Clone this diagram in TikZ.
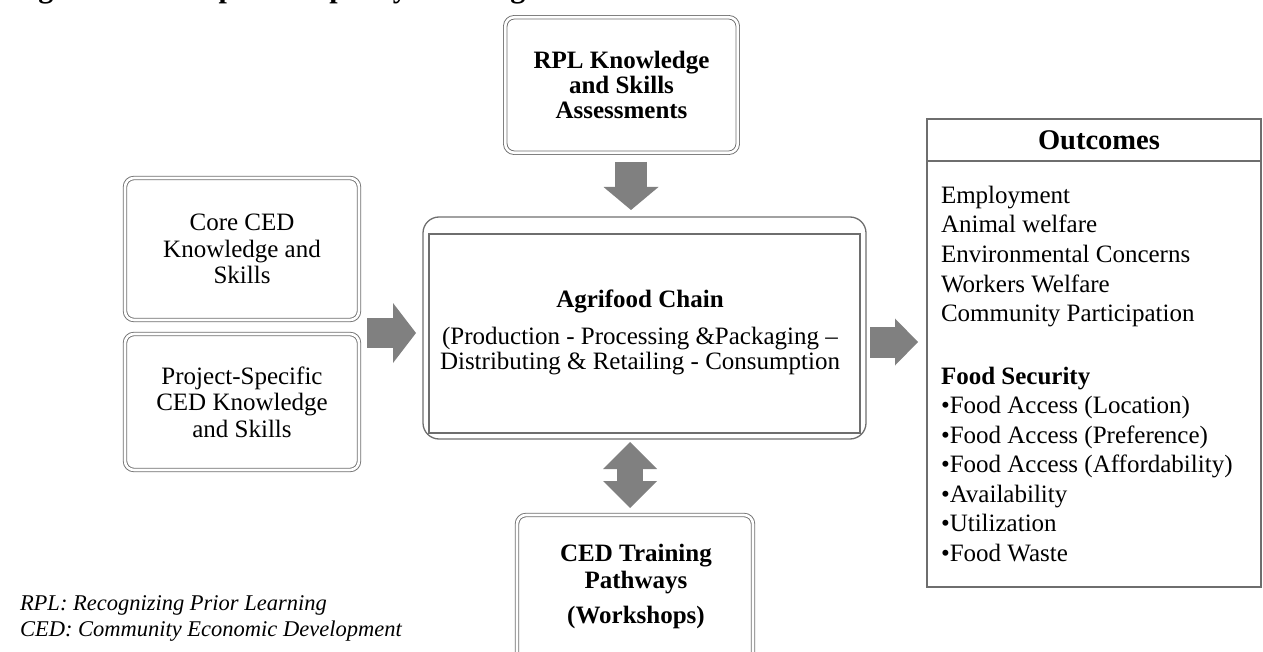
\documentclass[tikz,border=0pt]{standalone}
\usepackage{fontspec}
\setmainfont{Liberation Serif}
\usetikzlibrary{arrows.meta,calc}

\definecolor{edge}{HTML}{6E6E6E}
\definecolor{blockgray}{HTML}{808080}

\tikzset{
  dbox/.style={draw=edge, line width=0.9pt, double=white, double distance=2.6pt,
    rounded corners=9pt, inner sep=0pt, outer sep=0pt, align=center,
    font=\fontsize{25}{26.5}\selectfont},
  plainbox/.style={draw=edge, line width=1.3pt, inner sep=0pt, outer sep=0pt},
  txt/.style={inner sep=0pt, outer sep=0pt, align=center},
  item/.style={inner sep=0pt, outer sep=0pt, anchor=base west,
    font=\fontsize{25}{29}\selectfont},
  note/.style={inner sep=0pt, outer sep=0pt, anchor=base west,
    font=\fontsize{22.5}{26}\selectfont\itshape},
  blockarrow/.style n args={3}{blockgray, line width=#1pt,
    -{Triangle[width=#2pt,length=#3pt,line width=0pt]}},
  twoarrow/.style n args={3}{blockgray, line width=#1pt,
    {Triangle[width=#2pt,length=#3pt,line width=0pt]}-{Triangle[width=#2pt,length=#3pt,line width=0pt]}}
}

\begin{document}
\begin{tikzpicture}[x=1pt,y=-1pt]
\useasboundingbox (0,0) rectangle (1263,652);
\clip (0,0) rectangle (1263,652);

% caption, running off the top edge
\node[inner sep=0pt, anchor=base west, font=\fontsize{30}{32}\selectfont\bfseries]
  (caption) at (11.5,-2.5) {Figure 1: Conceptual Capacity Building Framework};

% assessment box
\node[dbox, font=\fontsize{25}{25}\selectfont\bfseries,
  minimum width=232.5pt, minimum height=135.5pt] (rpl) at (621.5,85)
  {RPL Knowledge\\and Skills\\Assessments};

% knowledge boxes on the left
\node[dbox, minimum width=234pt, minimum height=142pt] (core) at (242,249)
  {Core CED\\Knowledge and\\Skills};
\node[dbox, minimum width=234pt, minimum height=136pt] (proj) at (242,402)
  {Project-Specific\\CED Knowledge\\and Skills};

% agrifood chain box: rounded frame with a square frame inside
\node[plainbox, rounded corners=16pt, minimum width=443pt, minimum height=222pt]
  (agri) at (644.5,328) {};
\node[plainbox, minimum width=431pt, minimum height=199pt] (agriin) at (644.5,333.5) {};
\node[txt, font=\fontsize{25}{25}\selectfont] (agritxt) at (640,332)
  {\textbf{Agrifood Chain}\\[12pt](Production - Processing \&Packaging –\\Distributing \& Retailing - Consumption};

% training box, cut at the bottom edge
\node[dbox, minimum width=236pt, minimum height=175pt] (ced) at (635,602.5) {};
\node[txt, font=\fontsize{25}{27}\selectfont\bfseries] (cedtxt) at (636,586)
  {CED Training\\Pathways\\[8pt](Workshops)};

% outcomes panel
\node[plainbox, minimum width=334pt, minimum height=42pt] (ohead) at (1094,140) {};
\node[plainbox, line width=1.6pt, minimum width=334pt, minimum height=426pt] (obody) at (1094,374) {};
\node[txt, font=\fontsize{28.5}{30}\selectfont\bfseries] (otitle) at (1099,140.5) {Outcomes};

\foreach \yy/\tx [count=\i] in {
    203.3/Employment,
    232.9/Animal welfare,
    262.5/Environmental Concerns,
    292.1/Workers Welfare,
    321.7/Community Participation,
    384/\textbf{Food Security},
    413.5/•Food Access (Location),
    443.1/•Food Access (Preference),
    472.7/•Food Access (Affordability),
    502.3/•Availability,
    531.9/•Utilization,
    561.5/•Food Waste}
  \node[item] (out\i) at (941,\yy) {\tx};

% abbreviations
\node[note] (note1) at (20,610) {RPL: Recognizing Prior Learning};
\node[note] (note2) at (20,636) {CED: Community Economic Development};

% block arrows
\draw[blockarrow={32}{55}{23}] ($(rpl.south)+(9.5,9.25)$) -- ($(agri.north)+(-13.5,-7)$);
\draw[blockarrow={30}{60}{23}] ($(agri.west)+(-56,5)$) -- ($(agri.west)+(-7,5)$);
\draw[blockarrow={31}{47}{23}] ($(agri.east)+(4,14)$) -- ($(obody.west)+(-9,-32)$);
\draw[twoarrow={26}{54}{27}] ($(agri.south)+(-14.5,3)$) -- ($(ced.north)+(-5,-7)$);
\end{tikzpicture}
\end{document}
